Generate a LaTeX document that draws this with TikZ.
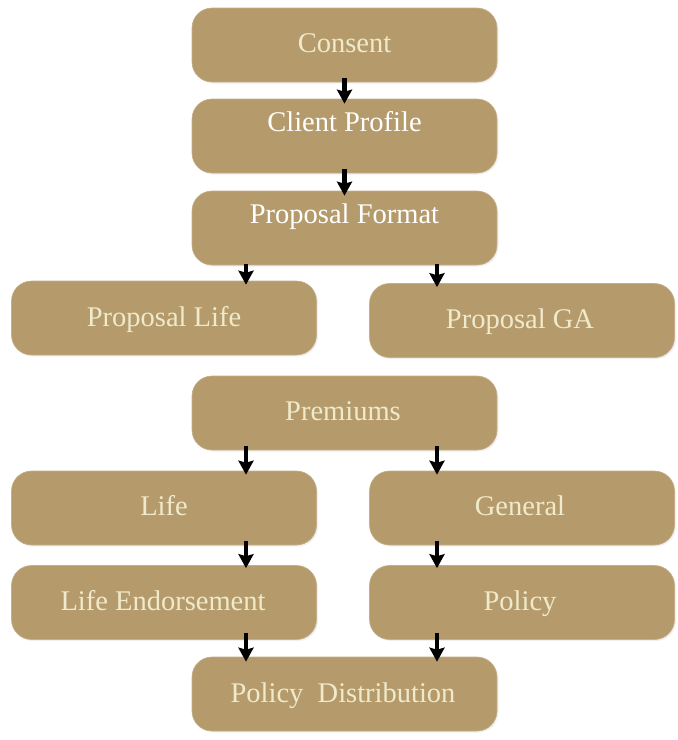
\documentclass[tikz,border=0pt]{standalone}
\usepackage{fontspec}
\setmainfont{Liberation Serif}
\usetikzlibrary{arrows.meta,calc,shadows}
\definecolor{boxfill}{HTML}{B59B6C}
\definecolor{cream}{HTML}{EFEACB}
\tikzset{
  box/.style={draw=boxfill!80!white, line width=0.6pt, fill=boxfill, rounded corners=20pt,
    minimum width=305pt, minimum height=74pt, inner sep=0pt,
    drop shadow={opacity=0.12, shadow xshift=1.5pt, shadow yshift=-1.5pt}},
  txt/.style={text=cream, font=\fontsize{28.5}{31}\selectfont, inner sep=0pt,
    text height=19pt, text depth=6pt},
  wtxt/.style={txt, text=white},
  arr/.style={line width=4.5pt, -{Stealth[width=15pt,length=14pt,inset=2pt]}}
}
\begin{document}
\begin{tikzpicture}[x=1pt,y=-1pt]
\useasboundingbox (0,0) rectangle (678,740);
\coordinate (xl) at (246,0);
\coordinate (xr) at (437,0);
\coordinate (xc) at (344.5,0);
% boxes
\node[box] (cons) at (344.5,45) {};
\node[box] (cp) at (344.5,136) {};
\node[box] (pf) at (344.5,228) {};
\node[box] (pl) at (164,318) {};
\node[box] (pga) at (522,320.5) {};
\node[box] (prem) at (344.5,413) {};
\node[box] (life) at (164,508) {};
\node[box] (gen) at (522,508) {};
\node[box] (le) at (164,602.5) {};
\node[box] (pol) at (522,602.5) {};
\node[box] (pd) at (344.5,694) {};
% texts
\node[txt] (tcons) at (344.5,46) {Consent};
\node[wtxt] (tcp) at (344.5,125) {Client Profile};
\node[wtxt] (tpf) at (344.5,217) {Proposal Format};
\node[txt] (tpl) at (164,320) {Proposal Life};
\node[txt] (tpga) at (520,322) {Proposal GA};
\node[txt] (tprem) at (343,414) {Premiums};
\node[txt] (tlife) at (164,509) {Life};
\node[txt] (tgen) at (520,509) {General};
\node[txt] (tle) at (163,604) {Life Endorsement};
\node[txt] (tpol) at (520,604) {Policy};
\node[txt] (tpd) at (343,696) {Policy\ \ Distribution};
% arrows
\draw[arr] ($(cons.south -| xc)+(0,-4)$) -- ($(cp.north -| xc)+(0,5)$);
\draw[arr] ($(cp.south -| xc)+(0,-4)$) -- ($(pf.north -| xc)+(0,5)$);
\draw[arr] ($(pf.south -| xl)+(0,-1)$) -- ($(pl.north -| xl)+(0,4)$);
\draw[arr] ($(pf.south -| xr)+(0,-1)$) -- ($(pga.north -| xr)+(0,4)$);
\draw[arr] ($(prem.south -| xl)+(0,-4)$) -- ($(life.north -| xl)+(0,4)$);
\draw[arr] ($(prem.south -| xr)+(0,-4)$) -- ($(gen.north -| xr)+(0,4)$);
\draw[arr] ($(life.south -| xl)+(0,-4)$) -- ($(le.north -| xl)+(0,3)$);
\draw[arr] ($(gen.south -| xr)+(0,-4)$) -- ($(pol.north -| xr)+(0,3)$);
\draw[arr] ($(le.south -| xl)+(0,-7)$) -- ($(pd.north -| xl)+(0,5)$);
\draw[arr] ($(pol.south -| xr)+(0,-7)$) -- ($(pd.north -| xr)+(0,5)$);
\end{tikzpicture}
\end{document}
